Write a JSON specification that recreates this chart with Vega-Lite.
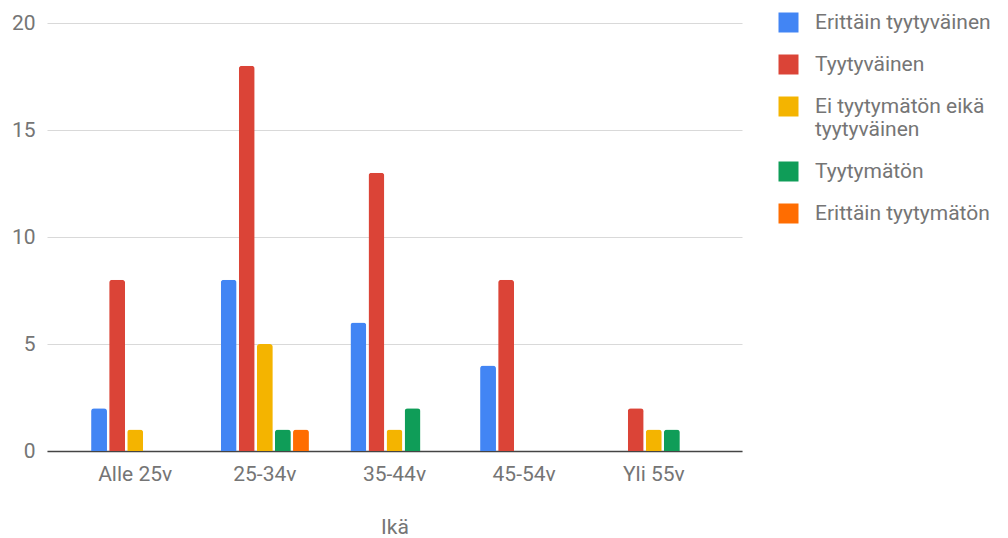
{
  "$schema": "https://vega.github.io/schema/vega-lite/v6.json",
  "width": 695,
  "height": 428,
  "autosize": {"type": "none"},
  "padding": {"left": 47, "top": 23, "right": 266, "bottom": 87},
  "background": "white",
  "data": {
    "values": [
      {"ika": "Alle 25v", "vastaus": "Erittäin tyytyväinen", "n": 2},
      {"ika": "Alle 25v", "vastaus": "Tyytyväinen", "n": 8},
      {"ika": "Alle 25v", "vastaus": "Ei tyytymätön eikä tyytyväinen", "n": 1},
      {"ika": "25-34v", "vastaus": "Erittäin tyytyväinen", "n": 8},
      {"ika": "25-34v", "vastaus": "Tyytyväinen", "n": 18},
      {"ika": "25-34v", "vastaus": "Ei tyytymätön eikä tyytyväinen", "n": 5},
      {"ika": "25-34v", "vastaus": "Tyytymätön", "n": 1},
      {"ika": "25-34v", "vastaus": "Erittäin tyytymätön", "n": 1},
      {"ika": "35-44v", "vastaus": "Erittäin tyytyväinen", "n": 6},
      {"ika": "35-44v", "vastaus": "Tyytyväinen", "n": 13},
      {"ika": "35-44v", "vastaus": "Ei tyytymätön eikä tyytyväinen", "n": 1},
      {"ika": "35-44v", "vastaus": "Tyytymätön", "n": 2},
      {"ika": "45-54v", "vastaus": "Erittäin tyytyväinen", "n": 4},
      {"ika": "45-54v", "vastaus": "Tyytyväinen", "n": 8},
      {"ika": "Yli 55v", "vastaus": "Tyytyväinen", "n": 2},
      {"ika": "Yli 55v", "vastaus": "Ei tyytymätön eikä tyytyväinen", "n": 1},
      {"ika": "Yli 55v", "vastaus": "Tyytymätön", "n": 1}
    ]
  },
  "mark": {"type": "bar", "cornerRadiusTopLeft": 3, "cornerRadiusTopRight": 3},
  "encoding": {
    "x": {
      "field": "ika",
      "type": "nominal",
      "sort": ["Alle 25v", "25-34v", "35-44v", "45-54v", "Yli 55v"],
      "scale": {"paddingInner": 0.32, "paddingOuter": 0.34},
      "axis": {
        "title": "Ikä",
        "labelAngle": 0,
        "ticks": false,
        "domainColor": "#444444",
        "domainWidth": 1.5,
        "labelPadding": 12,
        "titlePadding": 32,
        "grid": false
      }
    },
    "xOffset": {
      "field": "vastaus",
      "type": "nominal",
      "sort": ["Erittäin tyytyväinen", "Tyytyväinen", "Ei tyytymätön eikä tyytyväinen", "Tyytymätön", "Erittäin tyytymätön"],
      "scale": {
        "domain": ["Erittäin tyytyväinen", "Tyytyväinen", "Ei tyytymätön eikä tyytyväinen", "Tyytymätön", "Erittäin tyytymätön"],
        "paddingInner": 0.12,
        "paddingOuter": 0
      }
    },
    "y": {
      "field": "n",
      "type": "quantitative",
      "scale": {"domain": [0, 20], "nice": false},
      "axis": {
        "title": null,
        "values": [0, 5, 10, 15, 20],
        "ticks": false,
        "domain": false,
        "labelPadding": 12,
        "gridColor": "#d9d9d9",
        "gridWidth": 1.2
      }
    },
    "color": {
      "field": "vastaus",
      "type": "nominal",
      "scale": {
        "domain": ["Erittäin tyytyväinen", "Tyytyväinen", "Ei tyytymätön eikä tyytyväinen", "Tyytymätön", "Erittäin tyytymätön"],
        "range": ["#4285F4", "#DB4437", "#F4B400", "#0F9D58", "#FF6D01"]
      },
      "legend": {
        "title": null,
        "orient": "none",
        "legendX": 731,
        "legendY": -11,
        "padding": 0,
        "symbolType": "square",
        "symbolSize": 400,
        "symbolStrokeWidth": 0,
        "symbolOpacity": 1,
        "labelOffset": 16,
        "labelLimit": 400,
        "rowPadding": 20,
        "labelExpr": "datum.label == 'Ei tyytymätön eikä tyytyväinen' ? ['Ei tyytymätön eikä', 'tyytyväinen'] : datum.label"
      }
    }
  },
  "config": {
    "view": {"stroke": null},
    "font": "Roboto",
    "axis": {
      "labelFont": "Roboto",
      "labelFontSize": 21,
      "labelColor": "#757575",
      "titleFont": "Roboto",
      "titleFontSize": 21,
      "titleFontWeight": "normal",
      "titleColor": "#757575"
    },
    "legend": {
      "labelFont": "Roboto",
      "labelFontSize": 21,
      "labelColor": "#757575"
    }
  }
}
